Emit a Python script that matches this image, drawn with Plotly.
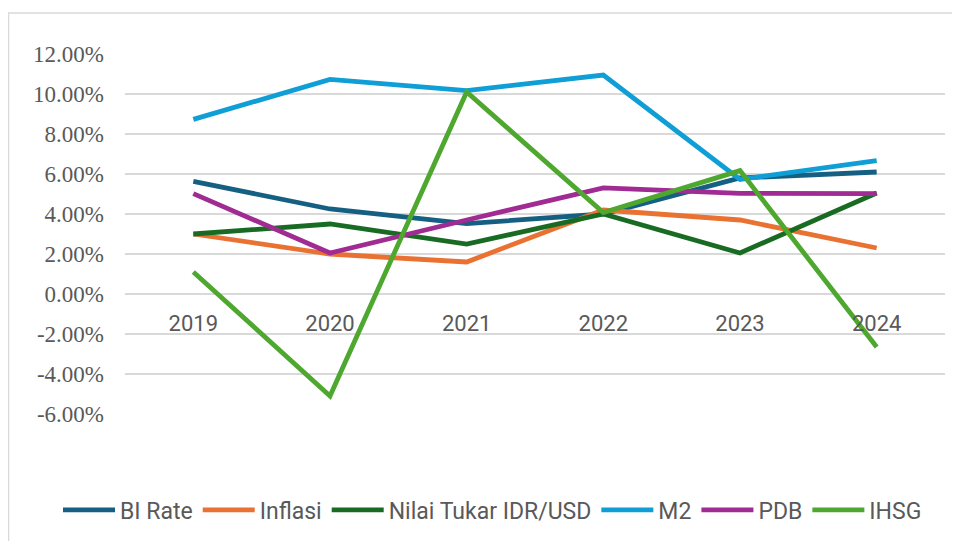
import plotly.graph_objects as go

tahun = ["2019", "2020", "2021", "2022", "2023", "2024"]

bi_rate = [5.63, 4.25, 3.52, 4.00, 5.80, 6.10]
inflasi = [3.00, 2.00, 1.60, 4.20, 3.70, 2.30]
nilai_tukar = [3.00, 3.50, 2.50, 4.00, 2.05, 5.05]
m2 = [8.73, 10.73, 10.17, 10.95, 5.73, 6.67]
pdb = [5.02, 2.05, 3.70, 5.31, 5.03, 5.02]
ihsg = [1.10, -5.10, 10.10, 4.07, 6.17, -2.65]

y_ticks = [-6, -4, -2, 0, 2, 4, 6, 8, 10, 12]

seri = [
    ("BI Rate", bi_rate, "#156082"),
    ("Inflasi", inflasi, "#E97132"),
    ("Nilai Tukar IDR/USD", nilai_tukar, "#196B24"),
    ("M2", m2, "#0F9ED5"),
    ("PDB", pdb, "#A02B93"),
    ("IHSG", ihsg, "#4EA72E"),
]

fig = go.Figure()
for nama, nilai, warna in seri:
    fig.add_trace(go.Scatter(x=tahun, y=nilai, name=nama, mode="lines",
                             line=dict(color=warna, width=4.8)))

# halaman html punya margin 8px, jadi semua posisi digeser 8px
fig.update_layout(
    width=960, height=541,
    margin=dict(l=117, r=23, t=46, b=135, autoexpand=False),
    paper_bgcolor="white", plot_bgcolor="white",
    showlegend=True,
    legend=dict(orientation="h", x=(50 - 117) / 820, xanchor="left",
                y=(406 - 502) / 360, yanchor="middle",
                font=dict(family="Roboto", size=23, color="#595959"),
                itemwidth=52, tracegroupgap=0),
    yaxis=dict(range=[-6, 12], tickvals=y_ticks,
               ticktext=[f"{v:.2f}%" for v in y_ticks],
               showgrid=True, gridcolor="#D9D9D9", gridwidth=1.5,
               zeroline=False, showline=False, ticks="", automargin=False,
               ticklabelstandoff=20,
               tickfont=dict(family="Liberation Serif, Times New Roman, serif",
                             size=23, color="#595959")),
    xaxis=dict(type="category", anchor="free", position=1/3, range=[-0.5, 5.5],
               showgrid=False, zeroline=False, showline=False, ticks="",
               automargin=False, ticklabelstandoff=14,
               tickfont=dict(family="Roboto", size=22, color="#595959")),
)

# bingkai area grafik
fig.add_shape(type="line", xref="paper", yref="paper",
              x0=(0 - 117) / 820, x1=(960 - 117) / 820,
              y0=(406 - 5) / 360, y1=(406 - 5) / 360,
              line=dict(color="#D9D9D9", width=1.5))
fig.add_shape(type="line", xref="paper", yref="paper",
              x0=(0.5 - 117) / 820, x1=(0.5 - 117) / 820,
              y0=(406 - 5) / 360, y1=(406 - 541) / 360,
              line=dict(color="#D9D9D9", width=1.5))

fig.write_html("out.html")
